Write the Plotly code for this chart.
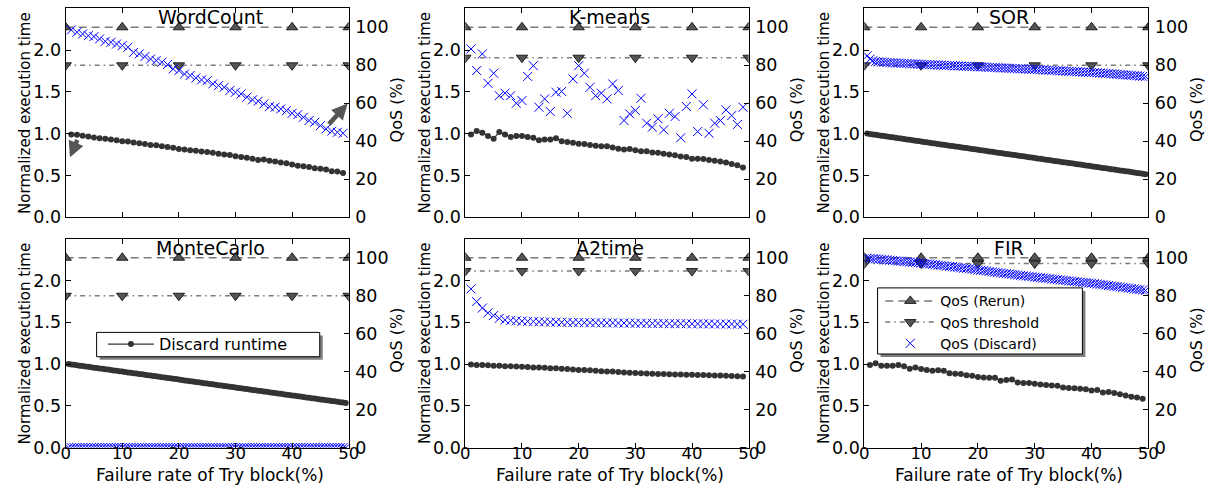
import plotly.graph_objects as go

# ---------------- data ----------------
titles = ["WordCount", "K-means", "SOR", "MonteCarlo", "A2time", "FIR"]

x_marks = [0, 10, 20, 30, 40, 50]              # rerun / threshold marker positions
x_tick_vals = [0, 10, 20, 30, 40, 50]
x_unit = list(range(1, 50))                    # 1 .. 49
x_half = [i / 2 for i in range(1, 100)]        # 0.5 .. 49.5

rerun_qos = [100, 100, 100, 100, 100, 100]
thr_wordcount = [80, 80, 80, 80, 80, 80]
thr_kmeans = [84, 84, 84, 84, 84, 84]
thr_sor = [80, 80, 80, 80, 80, 80]
thr_montecarlo = [80, 80, 80, 80, 80, 80]
thr_a2time = [93, 93, 93, 93, 93, 93]
thr_fir = [97, 97, 97, 97, 97, 97]

wc_runtime = [0.99, 0.985, 0.975, 0.965, 0.955, 0.945, 0.94, 0.93, 0.92, 0.91,
              0.905, 0.895, 0.885, 0.875, 0.865, 0.86, 0.85, 0.84, 0.83, 0.815,
              0.81, 0.80, 0.795, 0.785, 0.78, 0.77, 0.76, 0.75, 0.745, 0.73,
              0.72, 0.71, 0.70, 0.685, 0.69, 0.675, 0.665, 0.655, 0.645, 0.63,
              0.615, 0.61, 0.60, 0.585, 0.58, 0.57, 0.55, 0.545, 0.53]
wc_qos = [98.6, 97.4, 96.5, 95.6, 95.1, 93.9, 92.6, 92.1, 91.2, 90.4,
          89.5, 86.8, 86.0, 84.6, 83.3, 82.5, 81.6, 80.4, 78.1, 77.2,
          75.4, 74.6, 73.3, 72.3, 71.9, 70.2, 69.3, 68.4, 66.7, 65.8,
          64.9, 63.2, 61.8, 61.1, 59.6, 58.2, 57.9, 57.0, 56.1, 54.7,
          54.0, 52.6, 50.9, 50.0, 48.2, 46.5, 45.3, 44.7, 44.2]

km_runtime = [0.99, 1.03, 1.01, 0.97, 0.94, 1.02, 0.99, 0.96, 0.97, 0.97,
              0.96, 0.95, 0.92, 0.93, 0.93, 0.945, 0.91, 0.90, 0.89, 0.88,
              0.875, 0.865, 0.855, 0.85, 0.85, 0.835, 0.82, 0.81, 0.815, 0.80,
              0.79, 0.79, 0.775, 0.77, 0.76, 0.75, 0.74, 0.725, 0.72, 0.70,
              0.70, 0.695, 0.685, 0.675, 0.665, 0.655, 0.635, 0.62, 0.595]
km_qos = [88.6, 77.2, 86.0, 70.5, 75.8, 64.0, 65.3, 64.0, 60.0, 61.4,
          74.1, 79.8, 57.9, 62.3, 55.6, 65.8, 66.2, 54.7, 72.8, 79.8,
          75.8, 68.4, 64.0, 65.3, 62.3, 70.2, 66.7, 50.9, 54.4, 56.2,
          62.6, 49.5, 47.4, 51.8, 46.0, 54.7, 53.0, 41.8, 58.3, 64.9,
          45.1, 59.2, 44.2, 49.5, 50.9, 56.5, 53.5, 48.8, 57.9]

sor_runtime = [1.000, 0.995, 0.990, 0.985, 0.980, 0.975, 0.970, 0.966, 0.961, 0.956,
               0.951, 0.946, 0.941, 0.936, 0.931, 0.926, 0.921, 0.916, 0.911, 0.906,
               0.901, 0.896, 0.891, 0.886, 0.881, 0.876, 0.871, 0.866, 0.861, 0.856,
               0.852, 0.847, 0.842, 0.837, 0.832, 0.827, 0.822, 0.817, 0.812, 0.807,
               0.802, 0.797, 0.792, 0.787, 0.782, 0.777, 0.772, 0.767, 0.762, 0.757,
               0.753, 0.748, 0.743, 0.738, 0.733, 0.728, 0.723, 0.718, 0.713, 0.708,
               0.703, 0.698, 0.693, 0.688, 0.683, 0.678, 0.673, 0.668, 0.663, 0.658,
               0.654, 0.649, 0.644, 0.639, 0.634, 0.629, 0.624, 0.619, 0.614, 0.609,
               0.604, 0.599, 0.594, 0.589, 0.584, 0.579, 0.574, 0.569, 0.564, 0.559,
               0.555, 0.550, 0.545, 0.540, 0.535, 0.530, 0.525, 0.520, 0.515]
sor_qos = [85.0, 83.2, 82.4, 82.0, 81.8, 81.7, 81.6, 81.5, 81.4, 81.3,
           81.2, 81.1, 81.0, 80.95, 80.9, 80.8, 80.75, 80.7, 80.6, 80.5,
           80.45, 80.4, 80.3, 80.25, 80.2, 80.1, 80.05, 80.0, 79.9, 79.85,
           79.8, 79.7, 79.65, 79.6, 79.5, 79.45, 79.4, 79.35, 79.3, 79.2,
           79.15, 79.1, 79.0, 78.9, 78.85, 78.8, 78.7, 78.6, 78.55, 78.5,
           78.4, 78.35, 78.3, 78.2, 78.1, 78.05, 78.0, 77.9, 77.85, 77.8,
           77.7, 77.6, 77.55, 77.45, 77.4, 77.3, 77.2, 77.1, 77.05, 77.0,
           76.9, 76.8, 76.75, 76.65, 76.6, 76.5, 76.4, 76.35, 76.3, 76.2,
           76.1, 76.0, 75.9, 75.8, 75.7, 75.6, 75.45, 75.35, 75.25, 75.1,
           75.0, 74.9, 74.8, 74.7, 74.55, 74.45, 74.3, 74.15, 74.0]

mc_runtime = [1.000, 0.995, 0.991, 0.986, 0.981, 0.976, 0.972, 0.967, 0.962, 0.957,
              0.953, 0.948, 0.943, 0.938, 0.934, 0.929, 0.924, 0.919, 0.915, 0.910,
              0.905, 0.900, 0.896, 0.891, 0.886, 0.881, 0.877, 0.872, 0.867, 0.862,
              0.858, 0.853, 0.848, 0.843, 0.839, 0.834, 0.829, 0.824, 0.820, 0.815,
              0.810, 0.805, 0.801, 0.796, 0.791, 0.786, 0.782, 0.777, 0.772, 0.767,
              0.763, 0.758, 0.753, 0.748, 0.744, 0.739, 0.734, 0.729, 0.725, 0.720,
              0.715, 0.710, 0.706, 0.701, 0.696, 0.691, 0.687, 0.682, 0.677, 0.672,
              0.668, 0.663, 0.658, 0.653, 0.649, 0.644, 0.639, 0.634, 0.630, 0.625,
              0.620, 0.615, 0.611, 0.606, 0.601, 0.596, 0.592, 0.587, 0.582, 0.577,
              0.573, 0.568, 0.563, 0.558, 0.554, 0.549, 0.544, 0.539, 0.535]
mc_qos = [0, 0, 0, 0, 0, 0, 0, 0, 0, 0,
          0, 0, 0, 0, 0, 0, 0, 0, 0, 0,
          0, 0, 0, 0, 0, 0, 0, 0, 0, 0,
          0, 0, 0, 0, 0, 0, 0, 0, 0, 0,
          0, 0, 0, 0, 0, 0, 0, 0, 0, 0,
          0, 0, 0, 0, 0, 0, 0, 0, 0, 0,
          0, 0, 0, 0, 0, 0, 0, 0, 0, 0,
          0, 0, 0, 0, 0, 0, 0, 0, 0, 0,
          0, 0, 0, 0, 0, 0, 0, 0, 0, 0,
          0, 0, 0, 0, 0, 0, 0, 0, 0]

a2_runtime = [0.995, 0.99, 0.99, 0.985, 0.98, 0.98, 0.975, 0.975, 0.97, 0.968,
              0.965, 0.96, 0.96, 0.955, 0.95, 0.95, 0.945, 0.94, 0.935, 0.93,
              0.93, 0.925, 0.92, 0.915, 0.91, 0.91, 0.905, 0.90, 0.895, 0.892,
              0.89, 0.888, 0.885, 0.882, 0.88, 0.878, 0.876, 0.875, 0.873, 0.872,
              0.87, 0.868, 0.866, 0.864, 0.862, 0.86, 0.858, 0.855, 0.852]
a2_qos = [83.6, 76.9, 73.5, 71.0, 69.6, 68.1, 67.3, 67.0, 66.8, 66.6,
          66.5, 66.4, 66.3, 66.2, 66.1, 66.1, 66.0, 66.0, 65.9, 65.9,
          65.8, 65.8, 65.8, 65.7, 65.7, 65.7, 65.6, 65.6, 65.6, 65.5,
          65.5, 65.5, 65.4, 65.4, 65.4, 65.3, 65.3, 65.3, 65.3, 65.2,
          65.2, 65.2, 65.2, 65.1, 65.1, 65.1, 65.1, 65.0, 65.0]

fir_runtime = [0.99, 1.01, 0.98, 0.98, 0.98, 0.99, 0.975, 0.945, 0.96, 0.94,
               0.93, 0.92, 0.925, 0.92, 0.89, 0.885, 0.88, 0.865, 0.86, 0.845,
               0.84, 0.835, 0.835, 0.80, 0.81, 0.815, 0.78, 0.775, 0.775, 0.765,
               0.755, 0.75, 0.745, 0.74, 0.72, 0.715, 0.71, 0.705, 0.70, 0.685,
               0.69, 0.66, 0.665, 0.655, 0.64, 0.625, 0.61, 0.60, 0.585]
fir_qos = [99.8, 99.7, 99.5, 99.4, 99.3, 99.1, 99.0, 98.9, 98.7, 98.6,
           98.4, 98.3, 98.2, 98.0, 97.9, 97.8, 97.6, 97.5, 97.3, 97.2,
           97.0, 96.8, 96.7, 96.5, 96.3, 96.1, 96.0, 95.8, 95.6, 95.4,
           95.3, 95.1, 94.9, 94.7, 94.5, 94.4, 94.2, 94.0, 93.8, 93.5,
           93.4, 93.2, 93.0, 92.8, 92.6, 92.4, 92.2, 92.0, 91.8, 91.6,
           91.5, 91.3, 91.1, 90.9, 90.7, 90.5, 90.4, 90.2, 90.0, 89.8,
           89.7, 89.5, 89.3, 89.2, 89.0, 88.8, 88.7, 88.5, 88.3, 88.2,
           88.0, 87.8, 87.7, 87.5, 87.3, 87.2, 87.0, 86.9, 86.7, 86.6,
           86.4, 86.2, 86.0, 85.8, 85.6, 85.4, 85.2, 85.0, 84.8, 84.6,
           84.4, 84.2, 84.0, 83.8, 83.6, 83.4, 83.2, 83.0, 82.8]

panels = [
    dict(rt_x=x_unit, rt=wc_runtime, q_x=x_unit, q=wc_qos, thr=thr_wordcount),
    dict(rt_x=x_unit, rt=km_runtime, q_x=x_unit, q=km_qos, thr=thr_kmeans),
    dict(rt_x=x_half, rt=sor_runtime, q_x=x_half, q=sor_qos, thr=thr_sor),
    dict(rt_x=x_half, rt=mc_runtime, q_x=x_half, q=mc_qos, thr=thr_montecarlo),
    dict(rt_x=x_unit, rt=a2_runtime, q_x=x_unit, q=a2_qos, thr=thr_a2time),
    dict(rt_x=x_unit, rt=fir_runtime, q_x=x_half, q=fir_qos, thr=thr_fir),
]

# ---------------- layout geometry (reference pixel frame 1205 x 486) ----------------
W, H = 1205, 486
FIG_W, FIG_H = 1220, 497     # canvas size that lands on the 1205 x 486 picture
col_px = [(60.7, 344.0), (460.7, 744.3), (860.0, 1144.3)]
row_px = [(8.3, 216.7), (238.3, 446.7)]

FONT = "DejaVu Sans"
GRAY = "#7a7a7a"
MARK = "#555555"
RT = "#333333"
BLUE = "#0000ff"


def px(xp, yp):
    return xp / W, 1 - yp / H


fig = go.Figure()
layout = dict(
    width=FIG_W, height=FIG_H, autosize=False,
    margin=dict(l=0, r=0, t=0, b=0, pad=0),
    paper_bgcolor="white", plot_bgcolor="white",
    font=dict(family=FONT, size=17, color="black"),
    annotations=[], shapes=[],
)

for i, p in enumerate(panels):
    r, c = divmod(i, 3)
    x0, x1 = col_px[c]
    yt, yb = row_px[r]
    xdom = [x0 / W, x1 / W]
    ydom = [1 - yb / H, 1 - yt / H]
    xn = "x" if i == 0 else f"x{i+1}"
    yl = f"y{2*i+1}" if i > 0 else "y"
    yr = f"y{2*i+2}"
    xkey = "xaxis" if i == 0 else f"xaxis{i+1}"
    ylkey = "yaxis" if i == 0 else f"yaxis{2*i+1}"
    yrkey = f"yaxis{2*i+2}"

    layout[xkey] = dict(domain=xdom, range=[0, 50], anchor=yl, showgrid=False,
                        zeroline=False, showline=True, linecolor="black", linewidth=1,
                        mirror="ticks", ticks="inside", ticklen=5, tickcolor="black",
                        tickvals=x_tick_vals, showticklabels=(r == 1),
                        tickfont=dict(size=16.5), ticklabelstandoff=-9)
    layout[ylkey] = dict(domain=ydom, range=[0, 2.5], anchor=xn, showgrid=False,
                         zeroline=False, showline=True, linecolor="black", linewidth=1,
                         ticks="inside", ticklen=5, tickcolor="black",
                         tickvals=[0, 0.5, 1.0, 1.5, 2.0], tickformat=".1f",
                         tickfont=dict(size=17.5))
    layout[yrkey] = dict(range=[0, 110], anchor=xn, overlaying=yl, side="right",
                         showgrid=False, zeroline=False, showline=True,
                         linecolor="black", linewidth=1, ticks="inside", ticklen=5,
                         tickcolor="black", tickvals=[0, 20, 40, 60, 80, 100],
                         tickfont=dict(size=17.5), ticklabelstandoff=2)

    first = (i == 0)
    # runtime (left axis)
    fig.add_trace(go.Scatter(
        x=p["rt_x"], y=p["rt"], xaxis=xn, yaxis=yl, mode="lines+markers",
        name="Discard runtime", legend="legend", showlegend=first,
        line=dict(color=RT, width=1.2),
        marker=dict(symbol="circle", size=6, color=RT)))
    # rerun QoS
    fig.add_trace(go.Scatter(
        x=x_marks, y=rerun_qos, xaxis=xn, yaxis=yr, mode="lines+markers",
        name="QoS (Rerun)", legend="legend2", showlegend=first,
        line=dict(color=GRAY, width=1.5, dash="8px,5px"),
        marker=dict(symbol="triangle-up", size=10, color=MARK,
                    line=dict(color="black", width=0.8))))
    # threshold
    fig.add_trace(go.Scatter(
        x=x_marks, y=p["thr"], xaxis=xn, yaxis=yr, mode="lines+markers",
        name="QoS threshold", legend="legend2", showlegend=first,
        line=dict(color=GRAY, width=1.5, dash="5px,4px,1.5px,4px"),
        marker=dict(symbol="triangle-down", size=10, color=MARK,
                    line=dict(color="black", width=0.8))))
    # discard QoS
    fig.add_trace(go.Scatter(
        x=p["q_x"], y=p["q"], xaxis=xn, yaxis=yr, mode="markers",
        name="QoS (Discard)", legend="legend2", showlegend=first,
        marker=dict(symbol="x-thin", size=9, color=BLUE,
                    line=dict(color=BLUE, width=1))))

    cx = (x0 + x1) / 2
    # subplot title
    layout["annotations"].append(dict(
        text=titles[i], xref="paper", yref="paper", x=(cx + 3) / W, y=1 - (yt + 9) / H,
        xanchor="center", yanchor="middle", showarrow=False, font=dict(size=19)))
    # left y title
    layout["annotations"].append(dict(
        text="Normalized execution time", xref="paper", yref="paper",
        x=(x0 - 40.5) / W, y=1 - ((yt + yb) / 2) / H, textangle=-90,
        xanchor="center", yanchor="middle", showarrow=False, font=dict(size=15)))
    # right y title
    layout["annotations"].append(dict(
        text="QoS (%)", xref="paper", yref="paper",
        x=(x1 + 48) / W, y=1 - ((yt + yb) / 2 - 3) / H, textangle=-90,
        xanchor="center", yanchor="middle", showarrow=False, font=dict(size=16)))
    # x title on bottom row
    if r == 1:
        layout["annotations"].append(dict(
            text="Failure rate of Try block(%)", xref="paper", yref="paper",
            x=(cx + 3) / W, y=0, xanchor="center", yanchor="bottom", yshift=1,
            borderpad=0, showarrow=False, font=dict(size=17)))

# arrows in WordCount panel
layout["annotations"].append(dict(
    text="", x=0.76, y=0.716, xref="x", yref="y", ax=8, ay=-19, showarrow=True,
    arrowhead=2, arrowsize=0.7, arrowwidth=4.5, arrowcolor="#555555", standoff=0))
layout["annotations"].append(dict(
    text="", x=49.8, y=59.8, xref="x", yref="y2", ax=-20, ay=22, showarrow=True,
    arrowhead=2, arrowsize=0.7, arrowwidth=4.5, arrowcolor="#555555", standoff=0))

# legend frames (shadow + white box)
for (bx0, by0, bx1, by1) in [(91.7, 331.7, 315.0, 356.0), (873.3, 287.3, 1078.3, 353.3)]:
    a0, b0 = px(bx0 + 3, by0 + 3)
    a1, b1 = px(bx1 + 3, by1 + 3)
    layout["shapes"].append(dict(type="rect", xref="paper", yref="paper", layer="above",
                                 x0=a0, y0=b0, x1=a1, y1=b1,
                                 fillcolor="#7f7f7f", line=dict(width=0)))
    a0, b0 = px(bx0, by0)
    a1, b1 = px(bx1, by1)
    layout["shapes"].append(dict(type="rect", xref="paper", yref="paper", layer="above",
                                 x0=a0, y0=b0, x1=a1, y1=b1,
                                 fillcolor="white", line=dict(color="black", width=1)))

lx1, ly1 = px(98, 326.5)
layout["legend"] = dict(x=lx1, y=ly1, xanchor="left", yanchor="top",
                        bgcolor="rgba(0,0,0,0)", borderwidth=0,
                        font=dict(size=16), itemwidth=46)
lx2, ly2 = px(876, 284.7)
layout["legend2"] = dict(x=lx2, y=ly2, xanchor="left", yanchor="top",
                         bgcolor="rgba(0,0,0,0)", borderwidth=0,
                         font=dict(size=14), itemwidth=50, tracegroupgap=0)

fig.update_layout(**layout)

post = (
    "document.documentElement.style.margin='0px';"
    "document.documentElement.style.overflow='hidden';"
    "document.body.style.margin='0px';"
    "document.body.style.overflow='hidden';"
)
fig.write_html("out.html", config={"displayModeBar": False}, post_script=post)
